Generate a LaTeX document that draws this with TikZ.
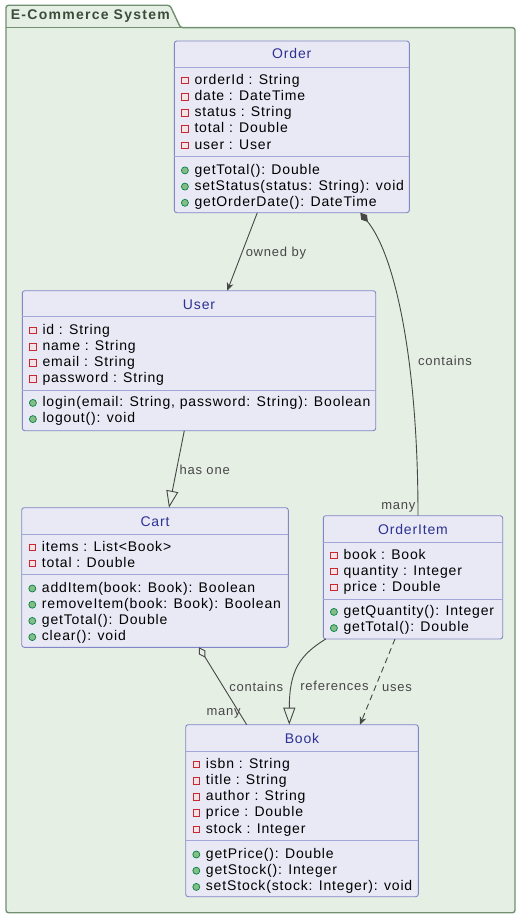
\documentclass[tikz,border=0pt]{standalone}
\usepackage{fontspec}
\setmainfont{Liberation Sans}
\newfontfamily\umlfont[LetterSpace=6]{Liberation Sans}
\newfontfamily\edgefont[LetterSpace=6]{Liberation Sans}
\newfontfamily\pkgfont[LetterSpace=9]{Liberation Sans}
\usepackage{tikz}
\usetikzlibrary{positioning,arrows.meta,calc}
\usepackage{xcolor}
\definecolor{pkgfill}{HTML}{E5EFE4}
\definecolor{pkgline}{HTML}{718F71}
\definecolor{pkgtext}{HTML}{3A4D3A}
\definecolor{boxfill}{HTML}{E8E9F5}
\definecolor{boxline}{HTML}{8286C6}
\definecolor{sepline}{HTML}{A3A6D8}
\definecolor{titleblue}{HTML}{2E3192}
\definecolor{privred}{HTML}{C82930}
\definecolor{privfill}{HTML}{F3E3E8}
\definecolor{publine}{HTML}{038048}
\definecolor{pubfill}{HTML}{84BE84}
\definecolor{edgegray}{HTML}{474747}

\begin{document}
\begin{tikzpicture}[x=1pt,y=-1pt,>={Stealth[length=8pt,width=7pt,inset=2.5pt]},
  classbox/.style={draw=boxline,fill=boxfill,rounded corners=2.5pt,line width=0.9pt,anchor=north west,inner sep=0pt,outer sep=0pt},
  classname/.style={text=titleblue,font=\umlfont\fontsize{14}{16}\selectfont,inner sep=0pt,text height=10pt,text depth=0pt},
  member/.style={anchor=west,inner sep=0pt,text height=10pt,text depth=0pt,font=\umlfont\fontsize{14}{16}\selectfont},
  privmark/.style={draw=privred,fill=privfill,line width=0.8pt,minimum size=6.5pt,inner sep=0pt},
  pubmark/.style={circle,draw=publine,fill=pubfill,line width=0.7pt,minimum size=7pt,inner sep=0pt},
  divider/.style={draw=sepline,line width=0.9pt},
  link/.style={draw=edgegray,line width=0.9pt},
  elabel/.style={text=edgegray,font=\edgefont\fontsize{13}{15}\selectfont,inner sep=0pt,text height=10pt,text depth=0pt}]
\useasboundingbox (0,0) rectangle (526,920);

% package
\draw[draw=pkgline,fill=pkgfill,line width=1.4pt,rounded corners=2.5pt] (6,27.7) |- (170,5.3) -- (180.5,27.7) -- (515,27.7) |- (6,912.7) -- cycle;
\draw[draw=pkgline,line width=1.4pt] (6,27.7) -- (180.5,27.7);
\node[font=\pkgfont\bfseries\fontsize{14}{16}\selectfont,text=pkgtext,anchor=west,inner sep=0pt] (pkgtitle) at (10.7,16) {E-Commerce System};

% Order
\node[classbox,minimum width=235pt,minimum height=171.7pt] (order) at (174.3,41) {};
\node[classname] (order-title) at (291.8,54) {Order};
\draw[divider] ($(order.north west)+(0,26)$) -- ($(order.north east)+(0,26)$);
\draw[divider] ($(order.north west)+(0,115.3)$) -- ($(order.north east)+(0,115.3)$);
\foreach \txt [count=\i from 0] in {orderId : String, date : DateTime, status : String, total : Double, user : User}{
  \node[privmark] at (184.9,80.5+16.2*\i) {};
  \node[member] (order-a\i) at (194.3,79.3+16.2*\i) {\txt};
}
\foreach \txt [count=\i from 0] in {{getTotal(): Double}, {setStatus(status: String): void}, {getOrderDate(): DateTime}}{
  \node[pubmark] at (184.9,170.4+16.2*\i) {};
  \node[member] (order-m\i) at (194.3,169.2+16.2*\i) {\txt};
}

% User
\node[classbox,minimum width=353.4pt,minimum height=140pt] (user) at (22.3,290.7) {};
\node[classname] (user-title) at (199,304) {User};
\draw[divider] ($(user.north west)+(0,25.6)$) -- ($(user.north east)+(0,25.6)$);
\draw[divider] ($(user.north west)+(0,99.3)$) -- ($(user.north east)+(0,99.3)$);
\foreach \txt [count=\i from 0] in {id : String, name : String, email : String, password : String}{
  \node[privmark] at (32.9,330.5+16.2*\i) {};
  \node[member] (user-a\i) at (42.3,329.3+16.2*\i) {\txt};
}
\foreach \txt [count=\i from 0] in {{login(email: String, password: String): Boolean}, {logout(): void}}{
  \node[pubmark] at (32.9,402.9+16.2*\i) {};
  \node[member] (user-m\i) at (42.3,401.7+16.2*\i) {\txt};
}

% Cart
\node[classbox,minimum width=266.6pt,minimum height=139.6pt] (cart) at (21.7,507.7) {};
\node[classname] (cart-title) at (155,521) {Cart};
\draw[divider] ($(cart.north west)+(0,26.3)$) -- ($(cart.north east)+(0,26.3)$);
\draw[divider] ($(cart.north west)+(0,66.3)$) -- ($(cart.north east)+(0,66.3)$);
\foreach \txt [count=\i from 0] in {items : List<Book>, total : Double}{
  \node[privmark] at (32.3,547.2+16.2*\i) {};
  \node[member] (cart-a\i) at (41.7,546+16.2*\i) {\txt};
}
\foreach \txt [count=\i from 0] in {{addItem(book: Book): Boolean}, {removeItem(book: Book): Boolean}, {getTotal(): Double}, {clear(): void}}{
  \node[pubmark] at (32.3,588.5+16.2*\i) {};
  \node[member] (cart-m\i) at (41.7,587.3+16.2*\i) {\txt};
}

% OrderItem
\node[classbox,minimum width=179.4pt,minimum height=123.3pt] (orderitem) at (323.3,515.7) {};
\node[classname] (orderitem-title) at (413,529) {OrderItem};
\draw[divider] ($(orderitem.north west)+(0,26.6)$) -- ($(orderitem.north east)+(0,26.6)$);
\draw[divider] ($(orderitem.north west)+(0,83.6)$) -- ($(orderitem.north east)+(0,83.6)$);
\foreach \txt [count=\i from 0] in {book : Book, quantity : Integer, price : Double}{
  \node[privmark] at (333.9,555.2+16.2*\i) {};
  \node[member] (orderitem-a\i) at (343.3,554+16.2*\i) {\txt};
}
\foreach \txt [count=\i from 0] in {{getQuantity(): Integer}, {getTotal(): Double}}{
  \node[pubmark] at (333.9,611.9+16.2*\i) {};
  \node[member] (orderitem-m\i) at (343.3,610.7+16.2*\i) {\txt};
}

% Book
\node[classbox,minimum width=232.6pt,minimum height=172pt] (book) at (185.7,724.7) {};
\node[classname] (book-title) at (302,738.3) {Book};
\draw[divider] ($(book.north west)+(0,26.3)$) -- ($(book.north east)+(0,26.3)$);
\draw[divider] ($(book.north west)+(0,115.3)$) -- ($(book.north east)+(0,115.3)$);
\foreach \txt [count=\i from 0] in {isbn : String, title : String, author : String, price : Double, stock : Integer}{
  \node[privmark] at (196.3,764.5+16.2*\i) {};
  \node[member] (book-a\i) at (205.7,763.3+16.2*\i) {\txt};
}
\foreach \txt [count=\i from 0] in {{getPrice(): Double}, {getStock(): Integer}, {setStock(stock: Integer): void}}{
  \node[pubmark] at (196.3,854.5+16.2*\i) {};
  \node[member] (book-m\i) at (205.7,853.3+16.2*\i) {\txt};
}

% relations
\draw[link,->] ($(order.south west)+(83,0)$) -- ($(user.north west)+(205,0)$) node[elabel,midway,right=3pt] {owned by};
\draw[link,{Diamond[length=12pt,width=7.5pt]}-] ($(order.south west)+(186,0)$) .. controls (395,255) and (418,360) .. ($(orderitem.north west)+(94.7,0)$)
  node[elabel,pos=0.62,right=9pt] {contains} node[elabel,pos=0.975,left=2pt] {many};
\draw[link,-{Triangle[open,length=17pt,width=12pt]}] ($(user.south west)+(162,0)$) -- ($(cart.north west)+(147.3,0)$) node[elabel,midway,right=2.5pt] {has one};
\draw[link,{Diamond[open,length=12pt,width=7.5pt]}-] ($(cart.south west)+(177.3,0)$) -- ($(book.north west)+(61,0)$)
  node[elabel,midway,right=6pt] {contains} node[elabel,pos=0.82,anchor=east,xshift=3pt] {many};
\draw[link,-{Triangle[open,length=17pt,width=12pt]}] ($(orderitem.south west)+(2.4,0)$) .. controls (300,655) and (289.3,670) .. ($(book.north west)+(103.6,0)$)
  node[elabel,pos=0.7,right=7.5pt] {references};
\draw[link,dash pattern=on 6pt off 4pt,->] ($(orderitem.south west)+(71.7,0)$) -- ($(book.north west)+(174.3,0)$) node[elabel,pos=0.55,right=6pt] {uses};
\end{tikzpicture}
\end{document}
